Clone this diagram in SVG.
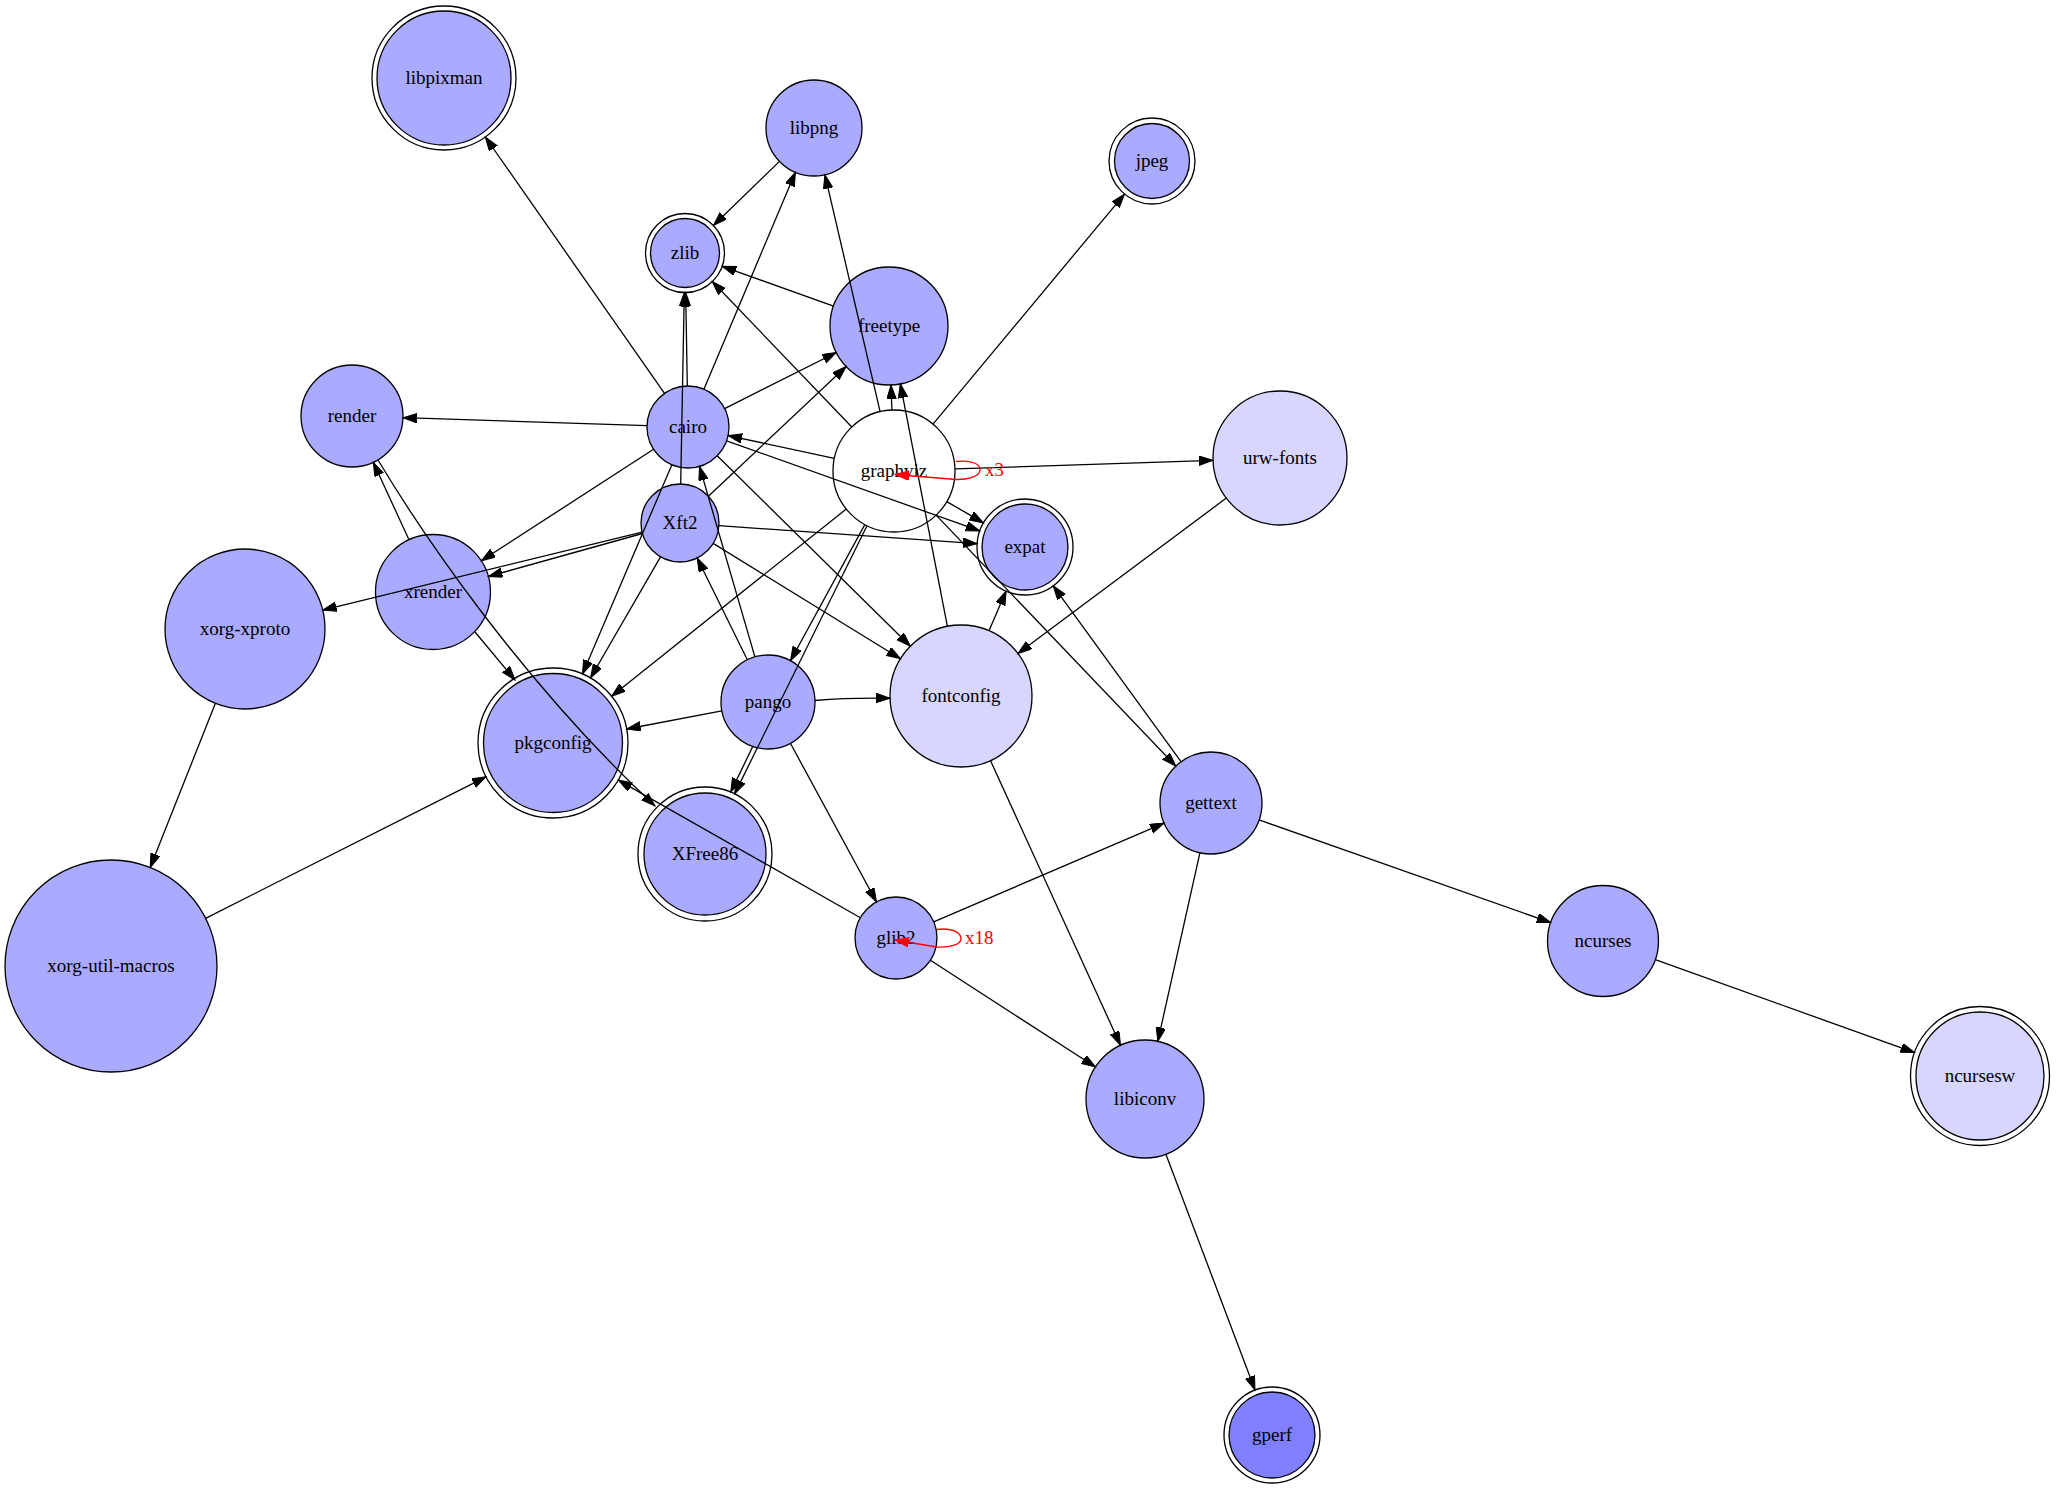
<svg xmlns="http://www.w3.org/2000/svg" width="2056" height="1491" viewBox="0 0 2056 1491">
<style>
.n{fill:#aaaaff;stroke:#000;stroke-width:1.3}
.l{fill:#d6d6ff}
.d{fill:#8080ff}
.w{fill:#ffffff}
.o{fill:none;stroke:#000;stroke-width:1.3}
text{font-family:"Liberation Serif","Times New Roman",serif;font-size:19px;text-anchor:middle;fill:#000}
.e{stroke:#000;stroke-width:1.3;fill:none;marker-end:url(#a)}
.r{stroke:#ff0000;stroke-width:1.3;fill:none;marker-end:url(#ar)}
.rt{fill:#ff0000;text-anchor:start}
</style>
<defs>
<marker id="a" markerUnits="userSpaceOnUse" markerWidth="16" markerHeight="12" refX="14" refY="4.75" orient="auto"><path d="M0,0 L14,4.75 L0,9.5 z" fill="#000" stroke="#000" stroke-width="1"/></marker>
<marker id="ar" markerUnits="userSpaceOnUse" markerWidth="16" markerHeight="12" refX="14" refY="4.75" orient="auto"><path d="M0,0 L14,4.75 L0,9.5 z" fill="#ff0000" stroke="#ff0000" stroke-width="1"/></marker>
</defs>
<rect x="0" y="0" width="2056" height="1491" fill="#ffffff"/>
<g id="nodes">
<g id="node-libpixman"><circle class="o" cx="444" cy="78" r="72"/><circle class="n" cx="444" cy="78" r="67"/><text x="444" y="84">libpixman</text></g>
<g id="node-libpng"><circle class="n" cx="814" cy="128" r="48"/><text x="814" y="134">libpng</text></g>
<g id="node-zlib"><circle class="o" cx="685" cy="253" r="39.5"/><circle class="n" cx="685" cy="253" r="34.5"/><text x="685" y="259">zlib</text></g>
<g id="node-freetype"><circle class="n" cx="889" cy="326" r="59"/><text x="889" y="332">freetype</text></g>
<g id="node-jpeg"><circle class="o" cx="1152" cy="161" r="43"/><circle class="n" cx="1152" cy="161" r="37.5"/><text x="1152" y="167">jpeg</text></g>
<g id="node-render"><circle class="n" cx="352" cy="416" r="51"/><text x="352" y="422">render</text></g>
<g id="node-cairo"><circle class="n" cx="688" cy="427" r="41"/><text x="688" y="433">cairo</text></g>
<g id="node-graphviz"><circle class="n w" cx="894" cy="471" r="61"/><text x="894" y="477">graphviz</text></g>
<g id="node-urw-fonts"><circle class="n l" cx="1280" cy="458" r="67"/><text x="1280" y="464">urw-fonts</text></g>
<g id="node-Xft2"><circle class="n" cx="680" cy="523" r="39"/><text x="680" y="529">Xft2</text></g>
<g id="node-expat"><circle class="o" cx="1025" cy="547" r="48"/><circle class="n" cx="1025" cy="547" r="43"/><text x="1025" y="553">expat</text></g>
<g id="node-xrender"><circle class="n" cx="433" cy="592" r="57.5"/><text x="433" y="598">xrender</text></g>
<g id="node-xorg-xproto"><circle class="n" cx="245" cy="629" r="80"/><text x="245" y="635">xorg-xproto</text></g>
<g id="node-pkgconfig"><circle class="o" cx="553" cy="743" r="75"/><circle class="n" cx="553" cy="743" r="69.5"/><text x="553" y="749">pkgconfig</text></g>
<g id="node-pango"><circle class="n" cx="768" cy="702" r="47"/><text x="768" y="708">pango</text></g>
<g id="node-fontconfig"><circle class="n l" cx="961" cy="696" r="71"/><text x="961" y="702">fontconfig</text></g>
<g id="node-XFree86"><circle class="o" cx="705" cy="854" r="67"/><circle class="n" cx="705" cy="854" r="61"/><text x="705" y="860">XFree86</text></g>
<g id="node-glib2"><circle class="n" cx="896" cy="938" r="41"/><text x="896" y="944">glib2</text></g>
<g id="node-gettext"><circle class="n" cx="1211" cy="803" r="51"/><text x="1211" y="809">gettext</text></g>
<g id="node-ncurses"><circle class="n" cx="1603" cy="941" r="55.5"/><text x="1603" y="947">ncurses</text></g>
<g id="node-libiconv"><circle class="n" cx="1145" cy="1099" r="59"/><text x="1145" y="1105">libiconv</text></g>
<g id="node-xorg-util-macros"><circle class="n" cx="111" cy="966" r="106"/><text x="111" y="972">xorg-util-macros</text></g>
<g id="node-ncursesw"><circle class="o" cx="1980" cy="1076" r="69.5"/><circle class="n l" cx="1980" cy="1076" r="64"/><text x="1980" y="1082">ncursesw</text></g>
<g id="node-gperf"><circle class="o" cx="1272" cy="1435" r="48"/><circle class="n d" cx="1272" cy="1435" r="43"/><text x="1272" y="1441">gperf</text></g>
</g>
<g id="connectors">
<line class="e" x1="664.5" y1="393.4" x2="485.3" y2="137.0"/>
<line class="e" x1="779.5" y1="161.4" x2="713.4" y2="225.5"/>
<line class="e" x1="687.3" y1="386.0" x2="685.7" y2="292.5"/>
<line class="e" x1="680.7" y1="484.0" x2="684.3" y2="292.5"/>
<line class="e" x1="703.9" y1="389.2" x2="795.4" y2="172.2"/>
<line class="e" x1="880.1" y1="411.6" x2="824.9" y2="174.7"/>
<line class="e" x1="833.5" y1="306.1" x2="722.2" y2="266.3"/>
<line class="e" x1="851.8" y1="427.0" x2="712.3" y2="281.5"/>
<line class="e" x1="724.6" y1="408.6" x2="836.3" y2="352.5"/>
<line class="e" x1="708.4" y1="496.2" x2="846.1" y2="366.5"/>
<line class="e" x1="891.9" y1="410.0" x2="891.0" y2="385.0"/>
<line class="e" x1="947.4" y1="626.3" x2="900.3" y2="383.9"/>
<line class="e" x1="933.0" y1="424.1" x2="1124.5" y2="194.1"/>
<line class="e" x1="647.0" y1="425.7" x2="403.0" y2="417.7"/>
<line class="e" x1="834.3" y1="458.3" x2="728.1" y2="435.6"/>
<line class="e" x1="726.6" y1="440.8" x2="979.8" y2="530.9"/>
<line class="e" x1="653.6" y1="449.3" x2="481.3" y2="560.8"/>
<line class="e" x1="671.9" y1="464.7" x2="582.5" y2="674.0"/>
<line class="e" x1="717.2" y1="455.8" x2="910.4" y2="646.2"/>
<line class="e" x1="713.2" y1="543.4" x2="900.5" y2="658.8"/>
<line class="e" x1="642.4" y1="533.5" x2="488.4" y2="576.5"/>
<line class="e" x1="642.1" y1="532.2" x2="322.7" y2="610.1"/>
<line class="e" x1="754.9" y1="656.9" x2="699.5" y2="466.4"/>
<line class="e" x1="747.3" y1="659.8" x2="697.2" y2="558.0"/>
<line class="e" x1="660.5" y1="556.8" x2="590.5" y2="678.0"/>
<line class="e" x1="846.3" y1="509.0" x2="611.6" y2="696.2"/>
<line class="e" x1="864.8" y1="524.6" x2="790.5" y2="660.7"/>
<line class="e" x1="867.0" y1="525.7" x2="734.6" y2="793.9"/>
<line class="e" x1="721.8" y1="710.8" x2="626.7" y2="729.0"/>
<path class="e" d="M815,700.5 Q850,697.5 890,698.2"/>
<line class="e" x1="753.0" y1="746.0" x2="730.7" y2="792.1"/>
<line class="e" x1="790.4" y1="743.3" x2="876.5" y2="902.0"/>
<line class="e" x1="989.0" y1="630.8" x2="1006.1" y2="591.1"/>
<line class="e" x1="1226.3" y1="498.1" x2="1017.9" y2="653.5"/>
<line class="e" x1="955.0" y1="468.9" x2="1213.0" y2="460.3"/>
<line class="e" x1="936.1" y1="515.1" x2="1175.8" y2="766.1"/>
<line class="e" x1="1181.0" y1="761.7" x2="1053.2" y2="585.8"/>
<line class="e" x1="990.5" y1="760.6" x2="1120.5" y2="1045.3"/>
<line class="e" x1="933.7" y1="921.8" x2="1164.1" y2="823.1"/>
<line class="e" x1="930.4" y1="960.3" x2="1095.5" y2="1067.0"/>
<line class="e" x1="1199.9" y1="852.8" x2="1157.8" y2="1041.4"/>
<line class="e" x1="1259.1" y1="819.9" x2="1550.7" y2="922.6"/>
<line class="e" x1="1655.3" y1="959.7" x2="1914.6" y2="1052.6"/>
<line class="e" x1="1165.9" y1="1154.2" x2="1255.0" y2="1390.1"/>
<line class="e" x1="215.4" y1="703.3" x2="150.2" y2="867.5"/>
<line class="e" x1="205.6" y1="918.3" x2="486.0" y2="776.8"/>
<line class="e" x1="409.0" y1="539.8" x2="373.3" y2="462.3"/>
<path class="e" d="M378,460 C420,530 520,680 655,806"/>
<line class="e" x1="475.0" y1="632.0" x2="515.0" y2="680.0"/>
<line class="e" x1="860.4" y1="917.7" x2="618.2" y2="780.1"/>
<line class="e" x1="718.9" y1="525.7" x2="977.1" y2="543.7"/>
<line class="e" x1="946.8" y1="501.6" x2="983.5" y2="522.9"/>
<path class="r" d="M956,461.5 C972,459.5 981,464.5 980,470.5 C979,476.5 968,479.8 956,479.5 L895,474.5"/>
<text class="rt" x="985" y="476">x3</text>
<path class="r" d="M936.5,929.5 C951,927.5 961,932 961,938.5 C961,944.5 951,947.5 936.5,947 L895,940"/>
<text class="rt" x="965" y="944">x18</text>
</g>
</svg>
